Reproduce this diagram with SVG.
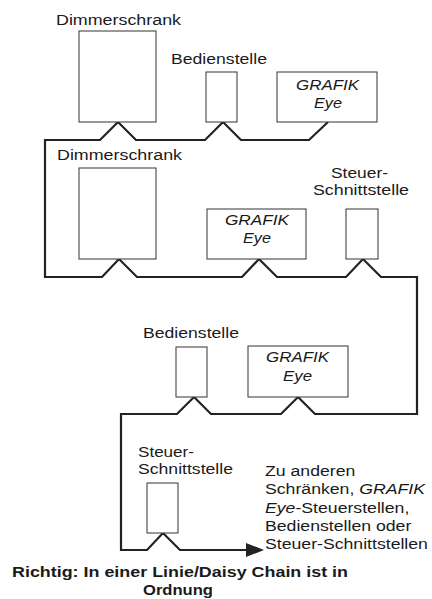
<svg xmlns="http://www.w3.org/2000/svg" width="432" height="599" viewBox="0 0 432 599">
<style>
text{font-family:"Liberation Sans",Arial,sans-serif;font-size:15.5px;fill:#1a1a1a}
.i{font-style:italic}
.b{font-weight:bold;font-size:15px}
.box{fill:#fff;stroke:#333;stroke-width:1}
.wire{fill:none;stroke:#222;stroke-width:2.2;stroke-linejoin:miter}
</style>
<rect width="432" height="599" fill="#fff"/>
<g id="connectors">
<path class="wire" d="M328,122 L309,140 L241,140 L223,122 L205,140 L136,140 L118,122 L100,140 L45,140 L45,277 L102,277 L119,259 L137,277 L242,277 L259,259 L277,277 L346,277 L363,259 L381,277 L417,277 L417,414 L315,414 L298,397 L281,414 L211,414 L194,397 L177,414 L121,414 L121,550 L147,550 L163,533 L180,550 L248,550"/>
<polygon points="246,543 264,550 246,557" fill="#222"/>
</g>
<g id="dimmer1">
<rect class="box" x="79" y="31" width="77" height="91"/>
<text x="56" y="24.5" textLength="125" lengthAdjust="spacingAndGlyphs">Dimmerschrank</text>
</g>
<g id="bedien1">
<rect class="box" x="206" y="72" width="31" height="50"/>
<text x="171" y="64" textLength="96" lengthAdjust="spacingAndGlyphs">Bedienstelle</text>
</g>
<g id="grafik1">
<rect class="box" x="277" y="72" width="100" height="50"/>
<text class="i" x="296" y="90" textLength="63" lengthAdjust="spacingAndGlyphs">GRAFIK</text>
<text class="i" x="314" y="108" textLength="28" lengthAdjust="spacingAndGlyphs">Eye</text>
</g>
<g id="dimmer2">
<rect class="box" x="79" y="168" width="77" height="91"/>
<text x="57" y="160" textLength="125" lengthAdjust="spacingAndGlyphs">Dimmerschrank</text>
</g>
<g id="grafik2">
<rect class="box" x="207" y="209" width="99" height="50"/>
<text class="i" x="225" y="225" textLength="64" lengthAdjust="spacingAndGlyphs">GRAFIK</text>
<text class="i" x="243" y="243" textLength="28" lengthAdjust="spacingAndGlyphs">Eye</text>
</g>
<g id="steuer1">
<rect class="box" x="346" y="209" width="32" height="50"/>
<text x="331" y="177.5" textLength="57" lengthAdjust="spacingAndGlyphs">Steuer-</text>
<text x="313" y="195" textLength="96" lengthAdjust="spacingAndGlyphs">Schnittstelle</text>
</g>
<g id="bedien2">
<rect class="box" x="176" y="347" width="31" height="50"/>
<text x="143" y="338" textLength="96" lengthAdjust="spacingAndGlyphs">Bedienstelle</text>
</g>
<g id="grafik3">
<rect class="box" x="248" y="346" width="100" height="51"/>
<text class="i" x="266" y="362" textLength="63" lengthAdjust="spacingAndGlyphs">GRAFIK</text>
<text class="i" x="283" y="381" textLength="29" lengthAdjust="spacingAndGlyphs">Eye</text>
</g>
<g id="steuer2">
<rect class="box" x="147" y="483" width="31" height="50"/>
<text x="138" y="457" textLength="56" lengthAdjust="spacingAndGlyphs">Steuer-</text>
<text x="138" y="474" textLength="95" lengthAdjust="spacingAndGlyphs">Schnittstelle</text>
</g>
<g id="target" transform="translate(265,0) scale(1.14,1)">
<text x="0" y="476">Zu anderen</text>
<text x="0" y="494">Schränken, <tspan class="i">GRAFIK</tspan></text>
<text x="0" y="513"><tspan class="i">Eye</tspan>-Steuerstellen,</text>
<text x="0" y="531">Bedienstellen oder</text>
<text x="0" y="549">Steuer-Schnittstellen</text>
</g>
<g id="caption">
<text class="b" x="12" y="577" textLength="336" lengthAdjust="spacingAndGlyphs">Richtig: In einer Linie/Daisy Chain ist in</text>
<text class="b" x="143" y="594.5" textLength="70" lengthAdjust="spacingAndGlyphs">Ordnung</text>
</g>
</svg>
